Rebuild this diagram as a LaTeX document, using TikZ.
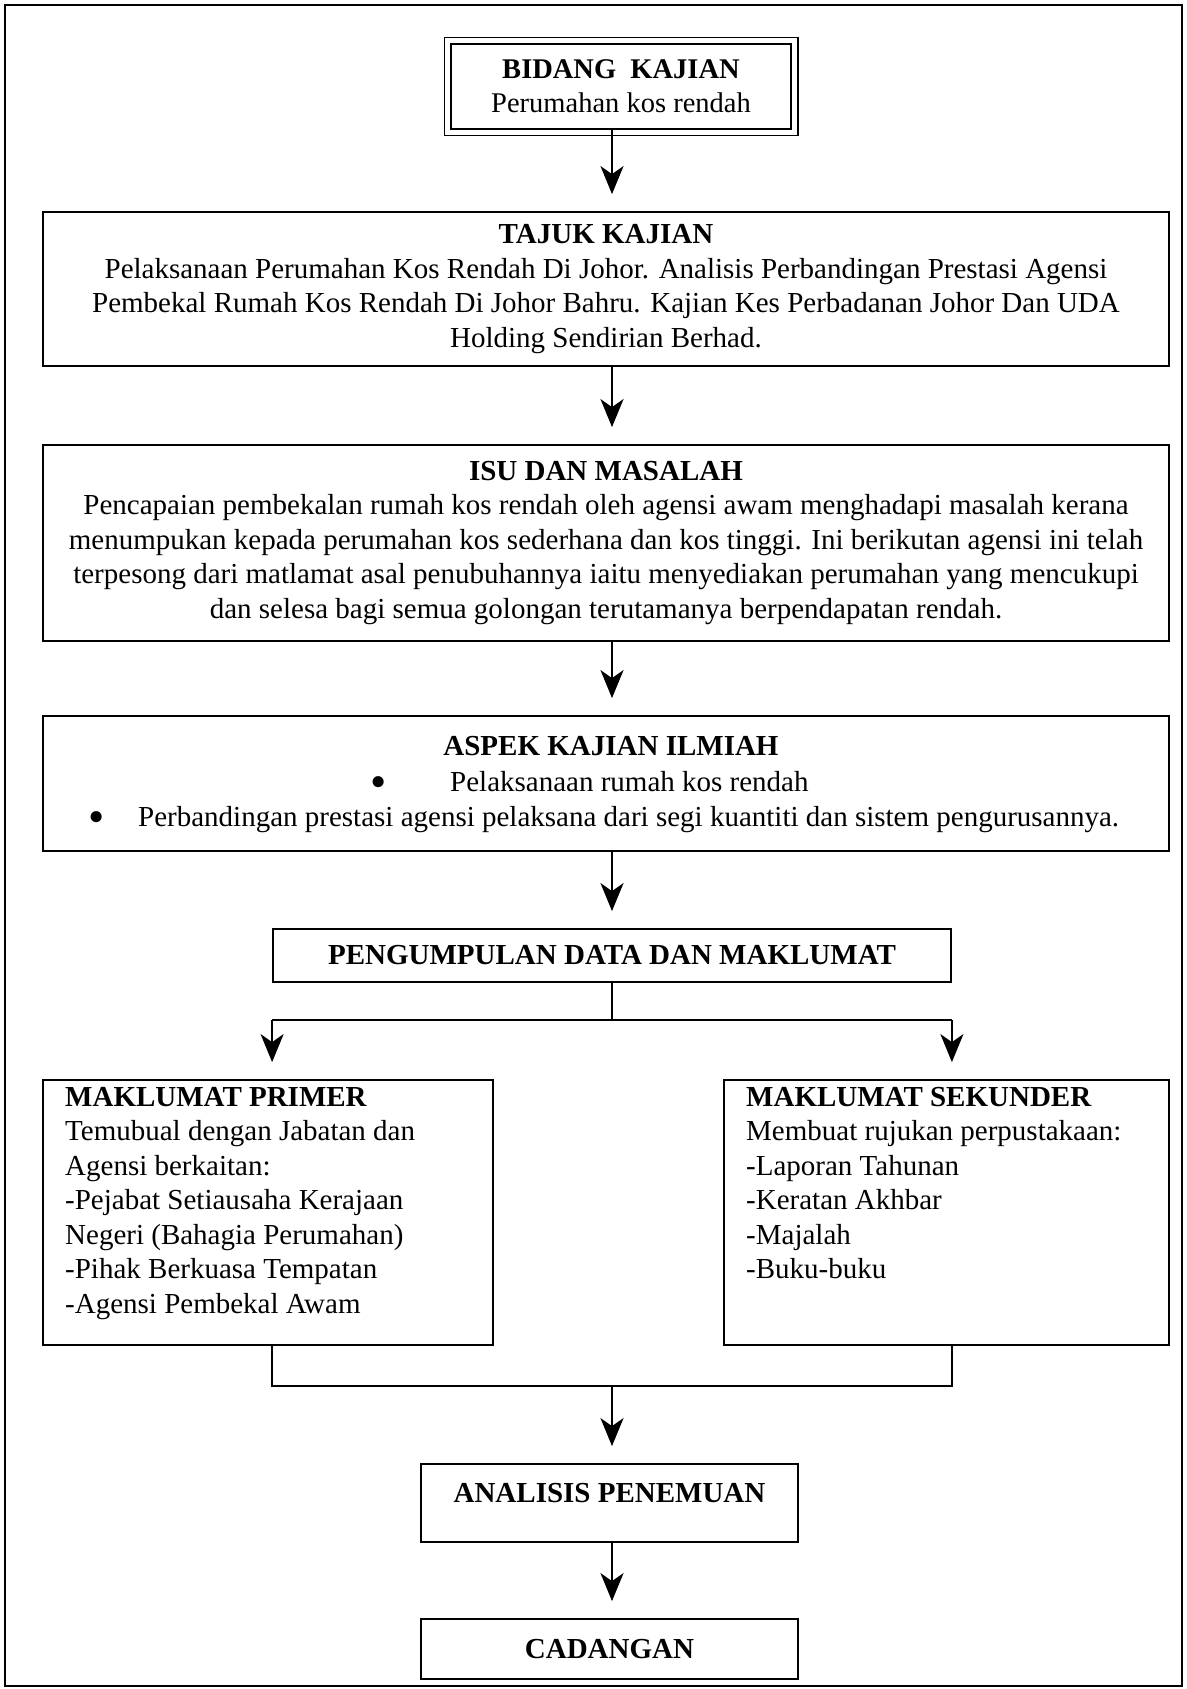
\documentclass[tikz,border=0pt]{standalone}
\usepackage{fontspec}
\setmainfont{Liberation Serif}
\usetikzlibrary{arrows.meta}
\newcommand\fsz{\fontsize{29}{34.5}\selectfont}
\newcommand\fsza{\fontsize{28.5}{34}\selectfont}
\newcommand\bigbul{\raisebox{-6pt}{\scalebox{1.6}{\textbullet}}}
\begin{document}
\begin{tikzpicture}[x=1pt,y=-1pt,
  box/.style={draw, line width=1.8pt, inner sep=0pt, align=center, font=\fsz},
  dbox/.style={draw, line width=2.6pt, inner sep=0pt, align=center, font=\fsza},
  txt/.style={inner sep=0pt, font=\fsz, align=left},
  conn/.style={line width=2.2pt},
  arr/.style={conn, -{Stealth[length=28pt,width=23pt,inset=8pt]}, shorten >=17pt}
]
\useasboundingbox (0,0) rectangle (1186,1689);
\draw[line width=2.4pt] (5,5) rectangle (1182,1686);

\coordinate (ax) at (612,0);

\node[dbox, minimum width=340pt, minimum height=85pt] (b1) at (621,86.5)
  {\textbf{BIDANG\ \ KAJIAN}\\Perumahan kos rendah};
\draw[line width=1.4pt] ([shift={(-5.5,-5)}]b1.north west) rectangle ([shift={(5.5,5)}]b1.south east);

\node[box, minimum width=1126pt, minimum height=154pt] (b2) at (606,289)
  {\textbf{TAJUK KAJIAN}\\
   Pelaksanaan Perumahan Kos Rendah Di Johor. Analisis Perbandingan Prestasi Agensi\\
   Pembekal Rumah Kos Rendah Di Johor Bahru. Kajian Kes Perbadanan Johor Dan UDA\\
   Holding Sendirian Berhad.};

\node[box, minimum width=1126pt, minimum height=196pt] (b3) at (606,543)
  {\textbf{ISU DAN MASALAH}\\
   Pencapaian pembekalan rumah kos rendah oleh agensi awam menghadapi masalah kerana\\
   menumpukan kepada perumahan kos sederhana dan kos tinggi. Ini berikutan agensi ini telah\\
   terpesong dari matlamat asal penubuhannya iaitu menyediakan perumahan yang mencukupi\\
   dan selesa bagi semua golongan terutamanya berpendapatan rendah.};

\node[box, minimum width=1126pt, minimum height=135pt] (b4) at (606,783.5) {};
\node[txt, anchor=base] (t4) at (611,755) {\textbf{ASPEK KAJIAN ILMIAH}};
\node[txt, anchor=base west] (t4a) at (370,791) {\bigbul};
\node[txt, anchor=base west] (t4b) at (450,791) {Pelaksanaan rumah kos rendah};
\node[txt, anchor=base west] (t4c) at (88,826) {\bigbul};
\node[txt, anchor=base west] (t4d) at (138,826) {Perbandingan prestasi agensi pelaksana dari segi kuantiti dan sistem pengurusannya.};

\node[box, minimum width=678pt, minimum height=53pt] (b5) at (612,955.5)
  {\textbf{PENGUMPULAN DATA DAN MAKLUMAT}};

\node[box, minimum width=450pt, minimum height=265pt] (b6l) at (268,1212.5) {};
\node[txt, anchor=north west] (t6l) at (65,1087)
  {\textbf{MAKLUMAT PRIMER}\\
   Temubual dengan Jabatan dan\\
   Agensi berkaitan:\\
   -Pejabat Setiausaha Kerajaan\\
   Negeri (Bahagia Perumahan)\\
   -Pihak Berkuasa Tempatan\\
   -Agensi Pembekal Awam};

\node[box, minimum width=445pt, minimum height=265pt] (b6r) at (946.5,1212.5) {};
\node[txt, anchor=north west] (t6r) at (746,1087)
  {\textbf{MAKLUMAT SEKUNDER}\\
   Membuat rujukan perpustakaan:\\
   -Laporan Tahunan\\
   -Keratan Akhbar\\
   -Majalah\\
   -Buku-buku};

\node[box, minimum width=377pt, minimum height=78pt] (b7) at (609.5,1503) {};
\node[txt] (t7) at (609.5,1493) {\textbf{ANALISIS PENEMUAN}};

\node[box, minimum width=377pt, minimum height=60pt] (b8) at (609.5,1649)
  {\textbf{CADANGAN}};

% connectors
\draw[arr] (b1.south -| ax) -- (b2.north -| ax);
\draw[arr] (b2.south -| ax) -- (b3.north -| ax);
\draw[arr] (b3.south -| ax) -- (b4.north -| ax);
\draw[arr] (b4.south -| ax) -- (b5.north -| ax);

\coordinate (split) at (612,1020);
\draw[conn] (b5.south -| ax) -- (split);
\draw[conn] (split -| b5.west) -- (split -| b5.east);
\draw[arr] (split -| b5.west) -- (b6l.north -| b5.west);
\draw[arr] (split -| b5.east) -- (b6r.north -| b5.east);

\coordinate (join) at (612,1386);
\draw[conn] (b6l.south -| b5.west) |- (join) -| (b6r.south -| b5.east);
\draw[arr] (join) -- (b7.north -| ax);
\draw[arr] (b7.south -| ax) -- (b8.north -| ax);
\end{tikzpicture}
\end{document}
